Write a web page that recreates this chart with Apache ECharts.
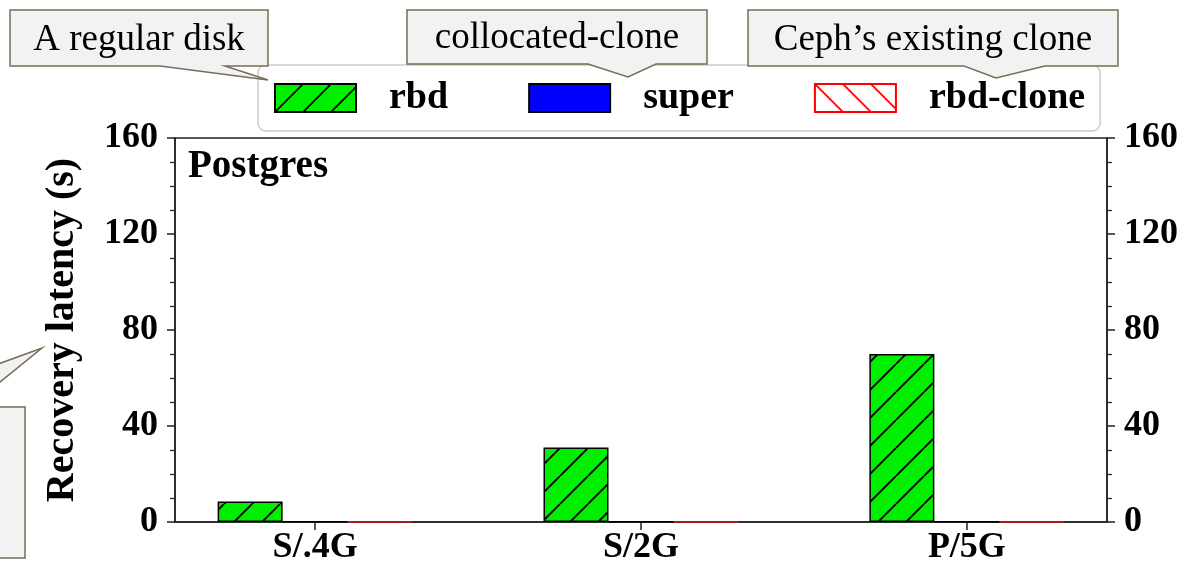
<!DOCTYPE html>
<html>
<head>
<meta charset="utf-8">
<script src="https://cdn.jsdelivr.net/npm/echarts@6/dist/echarts.min.js"></script>
<style>html,body{margin:0;padding:0;background:#fff;}#c{width:1186px;height:568px;}</style>
</head>
<body>
<div id="c"></div>
<script>
const categories = ['S/.4G', 'S/2G', 'P/5G'];
const rbd = [8.5, 31, 70];
const superVals = [0.2, 0.2, 0.2];
const rbdClone = [0.2, 0.2, 0.2];
const yTicks = [0, 40, 80, 120, 160];
const seriesNames = ['rbd', 'super', 'rbd-clone'];

const FONT = 'Liberation Serif, Times New Roman, serif';

function hatch(bg, fg, dir) {
  const s = 28;
  const c = document.createElement('canvas');
  c.width = s; c.height = s;
  const g = c.getContext('2d');
  if (bg) { g.fillStyle = bg; g.fillRect(0, 0, s, s); }
  g.strokeStyle = fg; g.lineWidth = 1.8;
  g.beginPath();
  for (let k = -1; k <= 1; k++) {
    if (dir === '/') { g.moveTo(k * s, s); g.lineTo(k * s + s, 0); }
    else { g.moveTo(k * s, 0); g.lineTo(k * s + s, s); }
  }
  g.stroke();
  return c;
}

const greenPat = { image: hatch('#00ee00', '#000', '/'), repeat: 'repeat' };
const redPat = { image: hatch('#ffffff', '#ff0000', '\\'), repeat: 'repeat' };

const toPairs = arr => arr.map((v, i) => [i, v]);

const chart = echarts.init(document.getElementById('c'), null, { renderer: 'canvas' });

const calloutStyle = { fill: '#f2f2f2', stroke: '#7a6c5a', lineWidth: 1.5 };
function callout(box, base, tip, text, tx, ty) {
  const [x1, y1, x2, y2] = box;
  return [
    { type: 'polygon', shape: { points: [[x1, y1], [x2, y1], [x2, y2], [base[1], y2], tip, [base[0], y2], [x1, y2]] }, style: calloutStyle, z: 100 },
    { type: 'text', x: tx, y: ty, style: { text: text, font: '37px ' + FONT, fill: '#000', align: 'center', verticalAlign: 'middle' }, z: 101 }
  ];
}

const graphics = [].concat(
  callout([10, 10, 268, 66], [160, 225], [268, 80], 'A regular disk', 139, 40),
  callout([407, 10, 707, 64], [588, 656], [628, 77], 'collocated-clone', 557, 38),
  callout([748, 10, 1118, 66], [964, 1045], [996, 78], 'Ceph\u2019s existing clone', 933, 40),
  [{ type: 'polygon', shape: { points: [[-10, 367], [42, 348], [-10, 390]] }, style: calloutStyle, z: 100 },
   { type: 'rect', shape: { x: -10, y: 407, width: 35, height: 151 }, style: calloutStyle, z: 100 }]
);

const axisLabelStyle = { color: '#000', fontFamily: FONT, fontWeight: 'bold', fontSize: 36 };

function yAxisDef(pos) {
  return {
    type: 'value', position: pos, min: 0, max: 160, interval: 40,
    splitLine: { show: false },
    axisLine: { show: true, onZero: false, lineStyle: { color: '#222', width: 1.5 } },
    axisTick: { show: true, length: 8, lineStyle: { color: '#222', width: 1.5 } },
    minorTick: { show: true, splitNumber: 4, length: 5, lineStyle: { color: '#222', width: 1.2 } },
    axisLabel: Object.assign({ margin: 17, customValues: yTicks }, axisLabelStyle)
  };
}

const yLeft = Object.assign(yAxisDef('left'), {
  name: 'Recovery latency (s)', nameLocation: 'middle', nameGap: 92,
  nameTextStyle: { fontFamily: FONT, fontWeight: 'bold', fontSize: 40, color: '#000' }
});
const yRight = yAxisDef('right');

chart.setOption({
  animation: false,
  backgroundColor: '#fff',
  title: {
    text: 'Postgres', left: 183, top: 142,
    textStyle: { fontFamily: FONT, fontWeight: 'bold', fontSize: 39, color: '#000' }
  },
  legend: {
    left: 258, top: 65,
    padding: [14, 15, 14, 16],
    itemWidth: 81, itemHeight: 28, itemGap: 80,
    icon: 'rect',
    borderColor: '#cccccc', borderWidth: 1.5, borderRadius: 8,
    backgroundColor: 'rgba(255,255,255,0.8)',
    textStyle: { fontFamily: FONT, fontWeight: 'bold', fontSize: 38, color: '#000', padding: [0, 0, 0, 28] },
    data: seriesNames
  },
  grid: {
    left: 175, right: 79, top: 138, bottom: 46,
    show: true, borderColor: '#222', borderWidth: 1.5, backgroundColor: 'transparent'
  },
  xAxis: {
    type: 'value', min: -0.43, max: 2.43,
    splitLine: { show: false },
    axisLine: { show: true, onZero: false, lineStyle: { color: '#222', width: 1.5 } },
    axisTick: { show: true, customValues: [0, 1, 2], length: 8, lineStyle: { color: '#222', width: 1.5 } },
    axisLabel: Object.assign({ customValues: [0, 1, 2], margin: 8, formatter: v => categories[Math.round(v)] }, axisLabelStyle)
  },
  yAxis: [yLeft, yRight],
  series: [
    { name: 'rbd', type: 'bar', data: toPairs(rbd), barWidth: 65, barGap: '0%',
      itemStyle: { color: greenPat, borderColor: '#000', borderWidth: 1.5 } },
    { name: 'super', type: 'bar', data: toPairs(superVals), barWidth: 65, barGap: '0%',
      itemStyle: { color: '#0000ff', borderColor: '#000', borderWidth: 1.5 } },
    { name: 'rbd-clone', type: 'bar', data: toPairs(rbdClone), barWidth: 65, barGap: '0%',
      itemStyle: { color: redPat, borderColor: '#ff0000', borderWidth: 1.5 } }
  ],
  graphic: graphics
});
</script>
</body>
</html>
